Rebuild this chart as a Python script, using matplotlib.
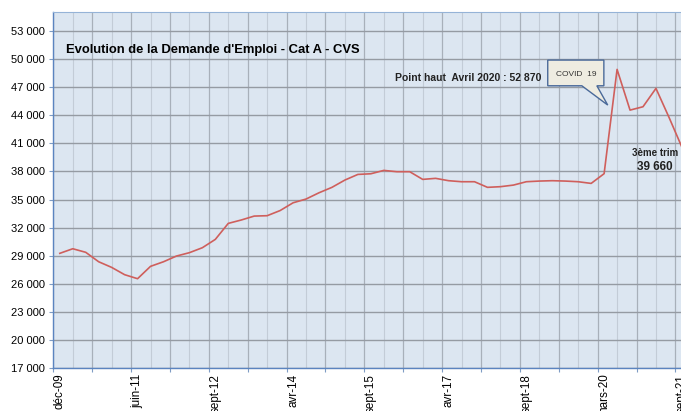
import numpy as np
import matplotlib.pyplot as plt
from matplotlib.patches import Polygon
from matplotlib.ticker import FuncFormatter

plt.rcParams['font.family'] = ['Liberation Sans', 'DejaVu Sans']

# =========================
# DONNEES
# =========================
demandes = [29250, 29740, 29360, 28350, 27750, 26970, 26540, 27860, 28350, 28960,
            29320, 29850, 30740, 32450, 32810, 33230, 33270, 33820, 34650, 35050,
            35720, 36300, 37080, 37680, 37750, 38110, 37970, 37970, 37150, 37260,
            37010, 36900, 36900, 36300, 36370, 36540, 36900, 36970, 37010, 36970,
            36900, 36720, 37760, 48900, 44550, 44910, 46870, 43800, 40600]
x_labels = ["déc-09", "juin-11", "sept-12", "avr-14", "sept-15",
            "avr-17", "sept-18", "mars-20", "sept-21"]
label_step = 6
y_ticks = [17000, 20000, 23000, 26000, 29000, 32000, 35000, 38000, 41000,
           44000, 47000, 50000, 53000]

titre = "Evolution de la Demande d'Emploi - Cat A - CVS"
note_haut = "Point haut  Avril 2020 : 52 870"
note_trim = "3ème trim"
note_val = "39 660"

# =========================
# FIGURE
# =========================
fig = plt.figure(figsize=(6.81, 4.11), dpi=100)
ax = fig.add_axes([0.0783, 0.1046, 0.9325, 0.8655])
ax.set_facecolor('#dce6f1')

x = np.arange(len(demandes))
ax.plot(x, demandes, color='#cf5f5c', lw=1.2, zorder=3)

ax.set_xlim(-0.5, len(demandes) - 0.5)
ax.set_ylim(17000, 55000)

# grille
ax.set_yticks(y_ticks)
ax.yaxis.set_major_formatter(FuncFormatter(lambda v, p: f"{int(v):,}".replace(",", " ")))
ax.set_xticks(np.arange(-0.5, len(demandes), 3))
ax.set_xticks(np.arange(1, len(demandes), 3), minor=True)
ax.set_xticklabels([])
ax.grid(axis='y', color='#959ba3', lw=1.0, zorder=1)
ax.grid(axis='x', which='major', color='#a8b0ba', lw=0.9, zorder=1)
ax.grid(axis='x', which='minor', color='#c3ccd7', lw=0.8, zorder=1)
ax.tick_params(axis='x', which='minor', length=0)
ax.tick_params(axis='x', which='major', length=3, color='#7f9cc4')
ax.tick_params(axis='y', length=3, color='#7f9cc4', labelsize=8, pad=3)

for i, lab in enumerate(x_labels):
    ax.text(i * label_step, 16400, lab, rotation=90, ha='center', va='top',
            fontsize=8.4, clip_on=False)

for s in ['left', 'bottom']:
    ax.spines[s].set_color('#5b84c0')
    ax.spines[s].set_linewidth(1.0)
ax.spines['top'].set_color('#95b3d7')
ax.spines['right'].set_visible(False)

# =========================
# TEXTES
# =========================
ax.text(0.46, 50960, titre, fontsize=9.4, fontweight='bold', ha='left', va='center')
ax.text(25.85, 47970, note_haut, fontsize=7.5, fontweight='bold', ha='left',
        va='center', color='#222222')

bulle = Polygon([(37.65, 49894), (41.98, 49894), (41.98, 47150), (41.44, 47150),
                 (42.28, 45088), (40.28, 47150), (37.65, 47150)],
                closed=True, facecolor='#eeece1', edgecolor='#4a6a9a', lw=1.0, zorder=4)
ax.add_patch(bulle)
ax.text(38.27, 48400, "COVID  19", fontsize=6, ha='left', va='center',
        color='#333333', zorder=5)

ax.text(45.91, 39960, note_trim, fontsize=7, fontweight='bold', ha='center',
        va='center', color='#222222')
ax.text(45.91, 38470, note_val, fontsize=8.5, fontweight='bold', ha='center',
        va='center', color='#222222')

fig.savefig('out.png', dpi=100)
